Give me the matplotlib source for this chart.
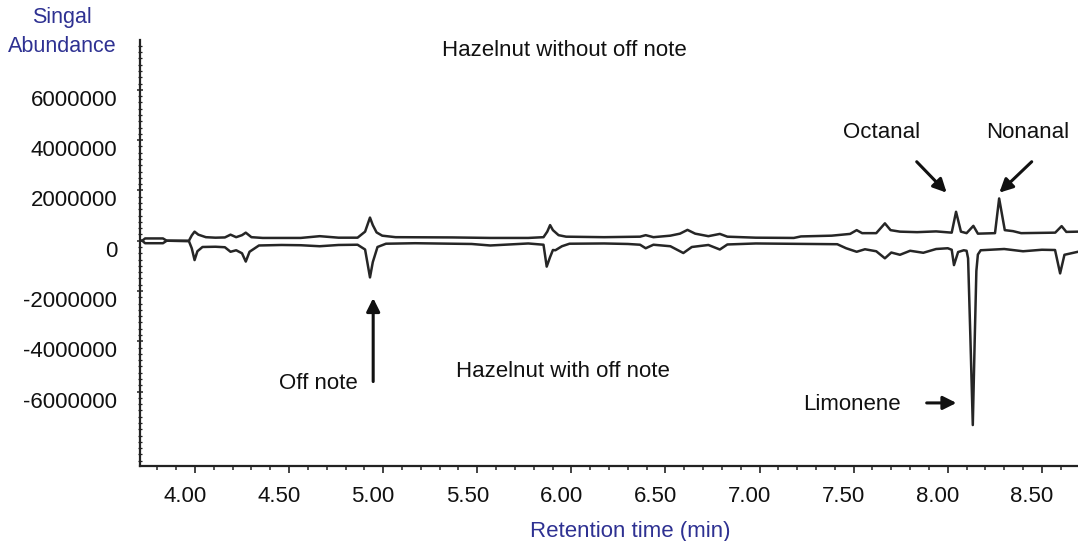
import matplotlib
matplotlib.use("Agg")
import matplotlib.pyplot as plt
from matplotlib.ticker import MultipleLocator, FixedLocator
from matplotlib.transforms import ScaledTranslation

# ---- data ----
upper_time = [3.706, 3.72, 3.735, 3.83, 3.85, 3.968, 3.983, 3.998, 4.018, 4.058, 4.109, 4.159,
              4.189, 4.219, 4.25, 4.27, 4.30, 4.36, 4.562, 4.663, 4.763, 4.864, 4.904, 4.93,
              4.945, 4.965, 4.995, 5.066, 5.368, 5.569, 5.771, 5.852, 5.872, 5.887, 5.902, 5.932,
              5.972, 6.174, 6.365, 6.395, 6.436, 6.526, 6.577, 6.617, 6.658, 6.728, 6.789, 6.829,
              6.98, 7.182, 7.22, 7.383, 7.481, 7.516, 7.545, 7.62, 7.666, 7.696, 7.746, 7.837,
              7.938, 8.021, 8.044, 8.07, 8.10, 8.136, 8.16, 8.251, 8.273, 8.303, 8.347, 8.39,
              8.571, 8.605, 8.63, 8.692]
upper_signal = [0, 0, 90000, 90000, 0, 0, 210000, 360000, 240000, 140000, 120000, 130000,
                240000, 140000, 220000, 320000, 140000, 110000, 110000, 180000, 120000, 120000, 360000, 920000,
                620000, 330000, 200000, 140000, 130000, 110000, 110000, 140000, 360000, 620000, 420000, 220000,
                160000, 140000, 160000, 220000, 140000, 200000, 280000, 430000, 280000, 180000, 270000, 160000,
                120000, 110000, 170000, 200000, 270000, 420000, 300000, 300000, 690000, 420000, 360000, 340000,
                370000, 320000, 1150000, 360000, 300000, 590000, 280000, 300000, 1680000, 420000, 380000, 300000,
                320000, 580000, 350000, 360000]

lower_time = [3.706, 3.72, 3.735, 3.83, 3.85, 3.968, 3.983, 3.998, 4.013, 4.04, 4.109, 4.159,
              4.189, 4.219, 4.25, 4.27, 4.29, 4.34, 4.46, 4.562, 4.663, 4.763, 4.864, 4.904,
              4.93, 4.945, 4.97, 5.015, 5.17, 5.47, 5.569, 5.771, 5.852, 5.869, 5.887, 5.902,
              5.915, 5.95, 5.99, 6.174, 6.30, 6.365, 6.395, 6.436, 6.526, 6.595, 6.64, 6.728,
              6.789, 6.829, 6.98, 7.413, 7.46, 7.516, 7.56, 7.62, 7.666, 7.70, 7.746, 7.80,
              7.87, 7.938, 8.00, 8.021, 8.033, 8.055, 8.085, 8.10, 8.108, 8.120, 8.133, 8.143,
              8.152, 8.16, 8.175, 8.30, 8.40, 8.50, 8.57, 8.597, 8.62, 8.692]
lower_signal = [0, 0, -100000, -100000, 0, -20000, -300000, -770000, -420000, -250000, -240000, -260000,
                -440000, -380000, -500000, -830000, -440000, -190000, -170000, -180000, -220000, -170000, -160000, -350000,
                -1460000, -850000, -250000, -120000, -100000, -130000, -190000, -110000, -160000, -1030000, -650000, -370000,
                -380000, -220000, -120000, -110000, -130000, -160000, -300000, -160000, -220000, -490000, -250000, -170000,
                -350000, -150000, -110000, -140000, -300000, -440000, -340000, -420000, -700000, -470000, -560000, -400000,
                -480000, -330000, -300000, -360000, -970000, -450000, -380000, -400000, -700000, -3800000, -7330000, -4000000,
                -1200000, -550000, -380000, -330000, -420000, -360000, -370000, -1300000, -560000, -440000]

x_ticks = [4.0, 4.5, 5.0, 5.5, 6.0, 6.5, 7.0, 7.5, 8.0, 8.5]
x_tick_labels = ["4.00", "4.50", "5.00", "5.50", "6.00", "6.50", "7.00", "7.50", "8.00", "8.50"]
y_ticks = [-6000000, -4000000, -2000000, 0, 2000000, 4000000, 6000000]
y_tick_labels = ["-6000000", "-4000000", "-2000000", "0", "2000000", "4000000", "6000000"]

# ---- figure ----
FONT = ["Liberation Sans", "DejaVu Sans"]
plt.rcParams["font.family"] = FONT
NAVY = "#2e3192"
TRACE = "#262626"

fig = plt.figure(figsize=(10.78, 5.41), dpi=100)
ax = fig.add_axes([140 / 1078, 1 - 465.7 / 541, 938 / 1078, (465.7 - 40) / 541])

ax.plot(upper_time, upper_signal, color=TRACE, lw=1.8, solid_joinstyle="round")
ax.plot(lower_time, lower_signal, color=TRACE, lw=1.8, solid_joinstyle="round")

ax.set_xlim(3.708, 8.692)
ax.set_ylim(-8946000, 7980000)

for s in ("top", "right"):
    ax.spines[s].set_visible(False)
for s in ("left", "bottom"):
    ax.spines[s].set_linewidth(1.6)
    ax.spines[s].set_color("#222222")

ax.xaxis.set_major_locator(FixedLocator(x_ticks))
ax.set_xticklabels(x_tick_labels)
ax.xaxis.set_minor_locator(MultipleLocator(0.1))
ax.yaxis.set_major_locator(FixedLocator(y_ticks))
ax.set_yticklabels(y_tick_labels)
ax.yaxis.set_minor_locator(MultipleLocator(250000))

ax.tick_params(axis="x", which="major", direction="out", length=5, width=1.2,
               color="#222222", labelsize=16, pad=9.5, labelcolor="#111111")
ax.tick_params(axis="x", which="minor", direction="out", length=3, width=1.1, color="#222222")
ax.tick_params(axis="y", which="major", direction="inout", length=5, width=1.1,
               color="#222222", labelsize=16, pad=14, labelcolor="#111111")
ax.tick_params(axis="y", which="minor", direction="inout", length=2.5, width=0.9, color="#222222")

# label offsets as in the original scan
for t in ax.xaxis.get_major_ticks():
    t.label1.set_transform(t.label1.get_transform() +
                           ScaledTranslation(-10 / 100, 0, fig.dpi_scale_trans))
for t in ax.yaxis.get_major_ticks():
    t.label1.set_transform(t.label1.get_transform() +
                           ScaledTranslation(0, -8 / 100, fig.dpi_scale_trans))

# axis titles
fig.text(62 / 1078, 1 - 18 / 541, "Singal", color=NAVY, fontsize=15.5, ha="center", va="center")
fig.text(62 / 1078, 1 - 47 / 541, "Abundance", color=NAVY, fontsize=15.5, ha="center", va="center")
fig.text(630 / 1078, 1 - 531 / 541, "Retention time (min)", color=NAVY, fontsize=16,
         ha="center", va="center")

# annotations
tk = dict(fontsize=16, color="#111111", ha="center", va="center")
ax.text(5.961, 7580000, "Hazelnut without off note", **tk)
ax.text(5.955, -5220000, "Hazelnut with off note", **tk)
ax.text(7.650, 4320000, "Octanal", **tk)
ax.text(8.426, 4320000, "Nonanal", **tk)
ax.text(4.654, -5660000, "Off note", **tk)
ax.text(7.491, -6530000, "Limonene", **tk)

ap = dict(arrowstyle="-|>", color="#111111", lw=2.2, mutation_scale=20, shrinkA=0, shrinkB=0)
ax.annotate("", xy=(7.994, 1910000), xytext=(7.835, 3140000), arrowprops=ap)
ax.annotate("", xy=(8.274, 1910000), xytext=(8.446, 3140000), arrowprops=ap)
ax.annotate("", xy=(4.947, -2280000), xytext=(4.947, -5600000), arrowprops=ap)
ax.annotate("", xy=(8.046, -6450000), xytext=(7.888, -6450000), arrowprops=ap)

fig.savefig("out.png", dpi=100)
